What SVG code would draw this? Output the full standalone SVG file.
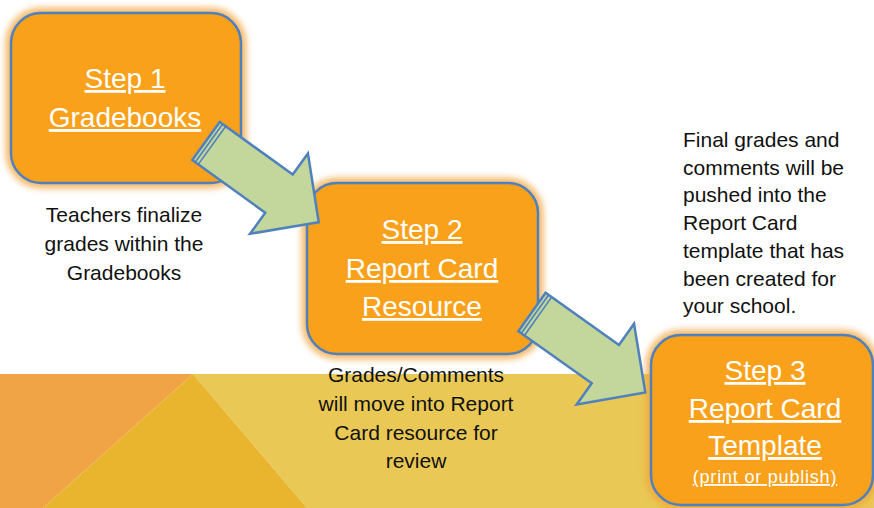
<svg xmlns="http://www.w3.org/2000/svg" width="874" height="508" viewBox="0 0 874 508">
  <defs>
    <filter id="glow" x="-20%" y="-20%" width="140%" height="140%">
      <feGaussianBlur stdDeviation="3"/>
    </filter>
    <!-- striped block arrow, drawn pointing along +x from its tail centre -->
    <g id="blockArrow">
      <polygon class="arrow-body" points="0,-23.5 90,-23.5 90,-49.5 139,0 90,49.5 90,23.5 0,23.5"/>
      <line class="stripe" x1="3.6" y1="-23.5" x2="3.6" y2="23.5"/>
      <line class="stripe" x1="7.4" y1="-23.5" x2="7.4" y2="23.5"/>
    </g>
  </defs>
  <style>
    .box { fill: #F9A11B; stroke: #4F81BD; stroke-width: 2.5; }
    .halo { fill: none; stroke: #F2A33A; stroke-width: 11; opacity: 0.75; }
    .title { font-family: "Liberation Sans", Arial, sans-serif; font-size: 28px; fill: #FFFFFF; text-anchor: middle; text-decoration: underline; }
    .small { font-size: 18px; letter-spacing: 0.8px; }
    .note { font-family: "Liberation Sans", Arial, sans-serif; font-size: 21px; fill: #111111; }
    .mid { text-anchor: middle; }
    .arrow-body { fill: #C3D69B; stroke: #4F81BD; stroke-width: 2.5; stroke-linejoin: miter; }
    .stripe { stroke: #4F81BD; stroke-width: 1.6; }
  </style>

  <!-- backdrop -->
  <rect x="0" y="0" width="874" height="508" fill="#FFFFFF"/>
  <g id="band">
    <polygon points="193,374 874,374 874,508 307,508" fill="#E9C855"/>
    <polygon points="0,374 193,374 43,508 0,508" fill="#F0A445"/>
    <polygon points="193,374 307,508 43,508" fill="#E9B52F"/>
  </g>

  <!-- step boxes -->
  <g id="step1">
    <rect class="halo" x="11" y="13" width="230" height="170" rx="30" filter="url(#glow)"/>
    <rect class="box" x="11" y="13" width="230" height="170" rx="30"/>
    <text class="title" x="125" y="88">Step 1</text>
    <text class="title" x="125" y="127">Gradebooks</text>
  </g>
  <g id="step2">
    <rect class="halo" x="307" y="183" width="231" height="171" rx="30" filter="url(#glow)"/>
    <rect class="box" x="307" y="183" width="231" height="171" rx="30"/>
    <text class="title" x="422" y="239">Step 2</text>
    <text class="title" x="422" y="278">Report Card</text>
    <text class="title" x="422" y="316">Resource</text>
  </g>
  <g id="step3">
    <rect class="halo" x="651" y="335" width="222" height="170" rx="30" filter="url(#glow)"/>
    <rect class="box" x="651" y="335" width="222" height="170" rx="30"/>
    <text class="title" x="765" y="380">Step 3</text>
    <text class="title" x="765" y="418">Report Card</text>
    <text class="title" x="765" y="455">Template</text>
    <text class="title small" x="765" y="483">(print or publish)</text>
  </g>

  <!-- connectors -->
  <g id="connectors">
    <use href="#blockArrow" transform="translate(206,141) rotate(35.8)"/>
    <use href="#blockArrow" transform="translate(532,312) rotate(35.4)"/>
  </g>

  <!-- captions -->
  <g id="caption1" class="note mid">
    <text x="124" y="222">Teachers finalize</text>
    <text x="124" y="251">grades within the</text>
    <text x="124" y="280">Gradebooks</text>
  </g>
  <g id="caption2" class="note mid">
    <text x="416" y="382">Grades/Comments</text>
    <text x="416" y="411">will move into Report</text>
    <text x="416" y="440">Card resource for</text>
    <text x="416" y="468">review</text>
  </g>
  <g id="caption3" class="note">
    <text x="683" y="147">Final grades and</text>
    <text x="683" y="175">comments will be</text>
    <text x="683" y="202">pushed into the</text>
    <text x="683" y="230">Report Card</text>
    <text x="683" y="258">template that has</text>
    <text x="683" y="286">been created for</text>
    <text x="683" y="313">your school.</text>
  </g>
</svg>
